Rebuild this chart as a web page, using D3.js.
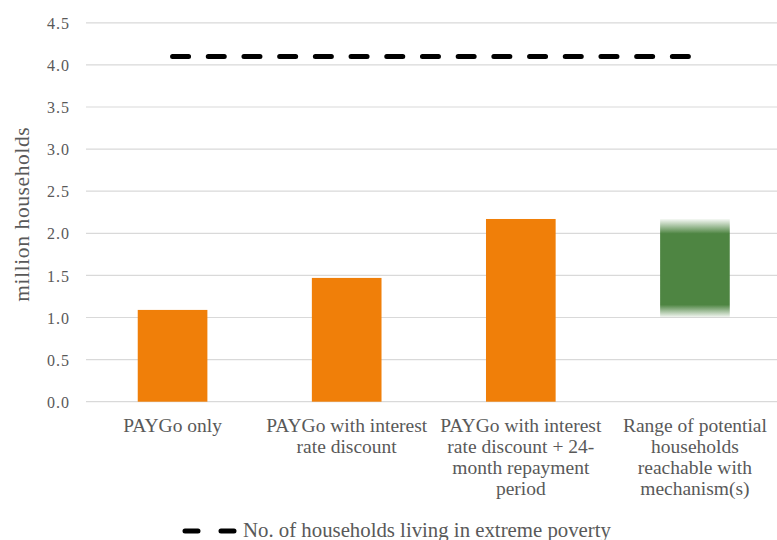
<!DOCTYPE html>
<html>
<head>
<meta charset="utf-8">
<script src="https://cdn.jsdelivr.net/npm/d3@7"></script>
<style>
  html, body { margin: 0; padding: 0; background: #fff; }
  svg { display: block; }
  text { font-family: "Liberation Serif", "DejaVu Serif", serif; fill: #595959; }
</style>
</head>
<body>
<svg id="chart" width="777" height="540"></svg>
<script>
const categories = [
  ["PAYGo only"],
  ["PAYGo with interest", "rate discount"],
  ["PAYGo with interest", "rate discount + 24-", "month repayment", "period"],
  ["Range of potential", "households", "reachable with", "mechanism(s)"]
];
const categoryKeys = ["c1", "c2", "c3", "c4"];
const barValues = [1.09, 1.47, 2.17];
const rangeLow = 1.0;
const rangeHigh = 2.17;
const povertyValue = 4.1;
const yTicks = [0, 0.5, 1.0, 1.5, 2.0, 2.5, 3.0, 3.5, 4.0, 4.5];
const yLabel = "million households";
const legendLabel = "No. of households living in extreme poverty";

(function () {
const svg = d3.select("#chart");
const mLeft = 86, mRight = 777, mTop = 22.8, mBottom = 401.7;

const x = d3.scaleBand().domain(categoryKeys).range([85.5, 782]).paddingInner(0.6).paddingOuter(0.3);
const y = d3.scaleLinear().domain([0, 4.5]).range([mBottom, mTop]);

// gridlines
svg.append("g").selectAll("line").data(yTicks).join("line")
  .attr("x1", mLeft).attr("x2", mRight)
  .attr("y1", d => y(d)).attr("y2", d => y(d))
  .attr("stroke", "#d9d9d9").attr("stroke-width", 1.2);

// y axis tick labels
const yAxis = d3.axisLeft(y).tickValues(yTicks).tickFormat(d3.format(".1f")).tickSize(0).tickPadding(0);
const ya = svg.append("g").attr("transform", `translate(${mLeft - 16},0)`).call(yAxis);
ya.select(".domain").remove();
ya.selectAll("text").attr("font-size", 16).attr("letter-spacing", 1)
  .style("font-family", "'Liberation Serif', serif").attr("fill", "#595959").attr("dy", "0.35em");

// y label
svg.append("text")
  .attr("transform", `translate(29,${(mTop + mBottom) / 2 + 2}) rotate(-90)`)
  .attr("text-anchor", "middle")
  .attr("font-size", 21.5)
  .attr("letter-spacing", 0.6)
  .text(yLabel);

// orange bars
svg.append("g").selectAll("rect").data(barValues).join("rect")
  .attr("x", (d, i) => x(categoryKeys[i]))
  .attr("width", x.bandwidth())
  .attr("y", d => y(d))
  .attr("height", d => y(0) - y(d))
  .attr("fill", "#f07f09");

// green range bar with faded edges
const defs = svg.append("defs");
const grad = defs.append("linearGradient").attr("id", "gfade").attr("x1", 0).attr("x2", 0).attr("y1", 0).attr("y2", 1);
[[0, 0.05], [0.15, 1], [0.87, 1], [1, 0.05]].forEach(([o, op]) => {
  grad.append("stop").attr("offset", o).attr("stop-color", "#4e8542").attr("stop-opacity", op);
});
svg.append("rect")
  .attr("x", x(categoryKeys[3]))
  .attr("width", x.bandwidth())
  .attr("y", y(rangeHigh))
  .attr("height", y(rangeLow) - y(rangeHigh))
  .attr("fill", "url(#gfade)");

// poverty dashed line
const cx0 = x(categoryKeys[0]) + x.bandwidth() / 2;
const cx3 = x(categoryKeys[3]) + x.bandwidth() / 2;
svg.append("line")
  .attr("x1", cx0).attr("x2", cx3)
  .attr("y1", y(povertyValue)).attr("y2", y(povertyValue))
  .attr("stroke", "#000").attr("stroke-width", 5)
  .attr("stroke-linecap", "round")
  .attr("stroke-dasharray", "16 19.7");

// category labels
const lab = svg.append("g");
categories.forEach((lines, i) => {
  const cx = x(categoryKeys[i]) + x.bandwidth() / 2;
  const t = lab.append("text")
    .attr("x", cx)
    .attr("y", 432)
    .attr("text-anchor", "middle")
    .attr("font-size", 19.5);
  lines.forEach((ln, j) => {
    t.append("tspan").attr("x", cx).attr("dy", j === 0 ? 0 : 21).text(ln);
  });
});

// legend
svg.append("line")
  .attr("x1", 185).attr("x2", 237).attr("y1", 531).attr("y2", 531)
  .attr("stroke", "#000").attr("stroke-width", 5)
  .attr("stroke-linecap", "round").attr("stroke-dasharray", "13 23");
svg.append("text")
  .attr("x", 243).attr("y", 537)
  .attr("font-size", 20.8)
  .text(legendLabel);
})();
</script>
</body>
</html>
